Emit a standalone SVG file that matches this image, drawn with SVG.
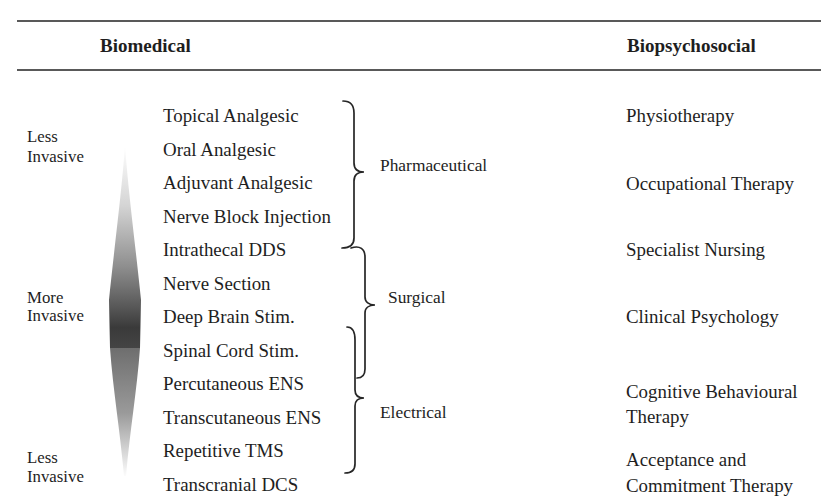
<svg xmlns="http://www.w3.org/2000/svg" width="821" height="503" viewBox="0 0 821 503">
<defs>
<style>
text{font-family:"Liberation Serif","Times New Roman",serif;fill:#1e1e1e}
.h{font-weight:bold;font-size:19px}
.i{font-size:18.9px}
.s{font-size:16.8px}
.g{font-size:17.4px}
.rule{stroke:#222;stroke-width:1.6}
.brace{fill:none;stroke:#262626;stroke-width:1.7;stroke-linecap:round}
</style>
<linearGradient id="up" x1="0" y1="145" x2="0" y2="348" gradientUnits="userSpaceOnUse">
<stop offset="0" stop-color="#fff"/>
<stop offset="0.3" stop-color="#d4d4d4"/>
<stop offset="0.6" stop-color="#8e8e8e"/>
<stop offset="0.8" stop-color="#575757"/>
<stop offset="0.9" stop-color="#3a3a3a"/>
<stop offset="1" stop-color="#444"/>
</linearGradient>
<linearGradient id="dn" x1="0" y1="348" x2="0" y2="478" gradientUnits="userSpaceOnUse">
<stop offset="0" stop-color="#6e6e6e"/>
<stop offset="0.5" stop-color="#9a9a9a"/>
<stop offset="1" stop-color="#fff"/>
</linearGradient>
</defs>
<rect width="821" height="503" fill="#fff"/>
<g id="header">
<line class="rule" x1="17" y1="21" x2="821" y2="21"/>
<line class="rule" x1="17" y1="70" x2="821" y2="70"/>
<text class="h" x="100" y="52">Biomedical</text>
<text class="h" x="627" y="52">Biopsychosocial</text>
</g>
<g id="spindle">
<path d="M125,145 C128,190 136,250 141,300 L140,348 L110,348 L109,300 C114,250 122,190 125,145 Z" fill="url(#up)"/>
<path d="M110,348 L140,348 C137,390 130,430 126,476 L124,476 C120,430 113,390 110,348 Z" fill="url(#dn)"/>
</g>
<g id="scale-labels">
<text class="s" x="27" y="142">Less</text>
<text class="s" x="27" y="162">Invasive</text>
<text class="s" x="27" y="303">More</text>
<text class="s" x="27" y="321">Invasive</text>
<text class="s" x="27" y="463">Less</text>
<text class="s" x="27" y="482">Invasive</text>
</g>
<g id="biomedical-items">
<text class="i" x="163" y="122">Topical Analgesic</text>
<text class="i" x="163" y="155.5">Oral Analgesic</text>
<text class="i" x="163" y="189">Adjuvant Analgesic</text>
<text class="i" x="163" y="222.5">Nerve Block Injection</text>
<text class="i" x="163" y="256">Intrathecal DDS</text>
<text class="i" x="163" y="289.5">Nerve Section</text>
<text class="i" x="163" y="323">Deep Brain Stim.</text>
<text class="i" x="163" y="356.5">Spinal Cord Stim.</text>
<text class="i" x="163" y="390">Percutaneous ENS</text>
<text class="i" x="163" y="423.5">Transcutaneous ENS</text>
<text class="i" x="163" y="457">Repetitive TMS</text>
<text class="i" x="163" y="490.5">Transcranial DCS</text>
</g>
<g id="connectors">
<path class="brace" d="M343,101 C351,101 354,105 354,113 L354,163 C354,169 358,172 364,172 C358,172 354,175 354,181 L354,238 C354,245 350,248 342,248"/>
<path class="brace" d="M351,248 C360,245 365,249 365,257 L365,297 C365,302 369,305 375,305 C369,305 365,308 365,313 L365,369 C365,375 362,378 357,378"/>
<path class="brace" d="M347,327 C353,327 355,332 355,340 L355,390 C355,395 358,398 364,398 C358,398 355,401 355,406 L355,464 C355,470 351,473 345,473"/>
</g>
<g id="groups">
<text class="g" x="380" y="171">Pharmaceutical</text>
<text class="g" x="388" y="303">Surgical</text>
<text class="g" x="380" y="418">Electrical</text>
</g>
<g id="biopsychosocial-items">
<text class="i" x="626" y="122">Physiotherapy</text>
<text class="i" x="626" y="190">Occupational Therapy</text>
<text class="i" x="626" y="256">Specialist Nursing</text>
<text class="i" x="626" y="323">Clinical Psychology</text>
<text class="i" x="626" y="398">Cognitive Behavioural</text>
<text class="i" x="626" y="423">Therapy</text>
<text class="i" x="626" y="466">Acceptance and</text>
<text class="i" x="626" y="492">Commitment Therapy</text>
</g>
</svg>
